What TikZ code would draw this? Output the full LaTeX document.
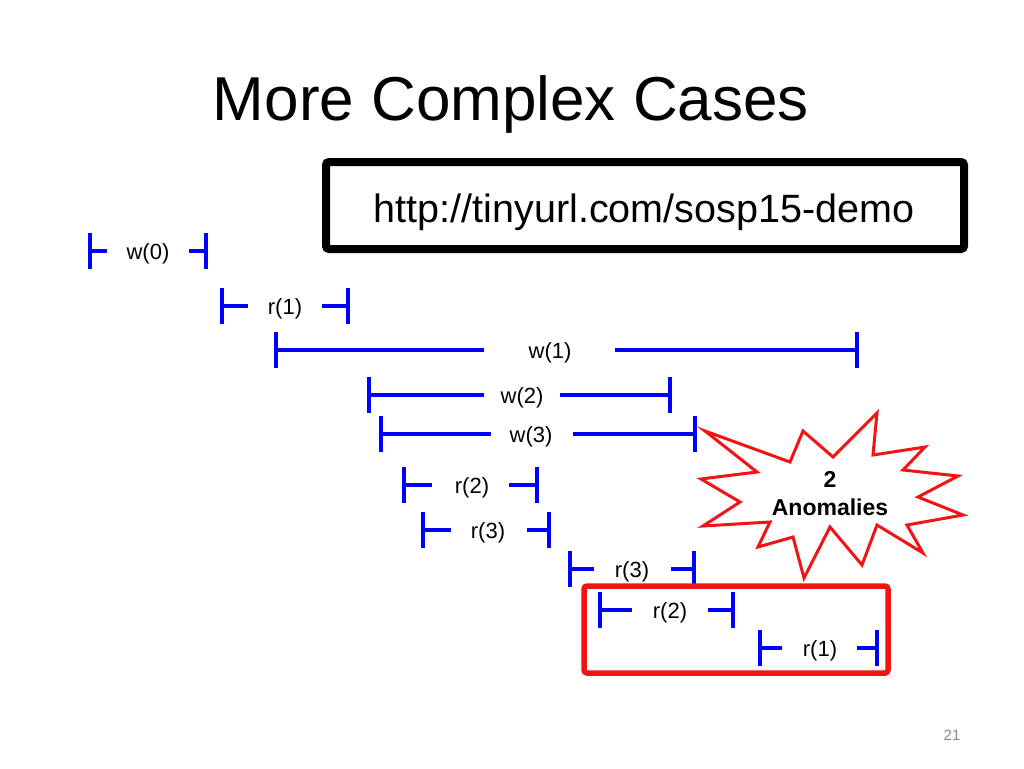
\documentclass[tikz,border=0pt]{standalone}
\usepackage{fontspec}
\setmainfont{Liberation Sans}
\tikzset{
  bar/.style={draw={rgb,255:red,0;green,0;blue,255}, line width=4pt},
  lbl/.style={inner sep=0pt, font=\fontsize{22}{26}\selectfont},
  redbox/.style={draw={rgb,255:red,240;green,20;blue,20}, line width=5.5pt, rounded corners=3pt},
  urlbox/.style={draw=black, line width=8pt, rounded corners=3pt},
  burst/.style={draw={rgb,255:red,240;green,20;blue,20}, line width=3pt, fill=white, line join=miter},
}
\newcommand\myivl[8]{%
  \coordinate (#1L) at (#3,#2);
  \coordinate (#1a) at (#4,#2);
  \node[lbl] (#1) at (#5,#2+3) {#6};
  \coordinate (#1b) at (#7,#2);
  \coordinate (#1R) at (#8,#2);
  \draw[bar] ([yshift=18pt]#1L) -- ([yshift=-18pt]#1L);
  \draw[bar] (#1L) -- (#1a);
  \draw[bar] (#1b) -- (#1R);
  \draw[bar] ([yshift=18pt]#1R) -- ([yshift=-18pt]#1R);
}
\begin{document}
\begin{tikzpicture}[x=1pt,y=-1pt]
\useasboundingbox (0,0) rectangle (1024,768);
% title
\node[font=\fontsize{62}{70}\selectfont, inner sep=0pt, anchor=base] (title) at (511,120) {More Complex Cases};
% url box
\draw[urlbox] (326,162) rectangle (964,249);
\node[font=\fontsize{39.5}{46}\selectfont, inner sep=0pt, anchor=base] (url) at (644,222) {http://tinyurl.com/sosp15-demo};
% intervals
\myivl{wz}{251}{90}{107}{148}{w(0)}{189}{206}
\myivl{ra}{306}{222}{248}{285}{r(1)}{322}{348}
\myivl{wa}{350}{276}{484}{550}{w(1)}{615}{857}
\myivl{wb}{395}{369}{484}{522}{w(2)}{560}{670}
\myivl{wc}{434}{381}{491}{531}{w(3)}{573}{695}
\myivl{rb}{485}{404}{432}{472}{r(2)}{509}{537}
\myivl{rc}{530}{423}{451}{488}{r(3)}{527}{549}
\myivl{rd}{569}{570}{594}{632}{r(3)}{671}{694}
\myivl{re}{610}{600}{632}{670}{r(2)}{708}{733}
\myivl{rf}{648}{760}{782}{820}{r(1)}{857}{877}
% red box
\draw[redbox] (584,586) rectangle (888,673);
% starburst
\draw[burst] (705,431) -- (790,462) -- (803,431) -- (833,457) -- (877,413) -- (873,455)
  -- (925,447) -- (903,470) -- (958,476) -- (918,497) -- (963,515) -- (907,525)
  -- (923,553) -- (877,525) -- (862,565) -- (830,527) -- (804,578) -- (793,537)
  -- (758,547) -- (770,522) -- (703,526) -- (740,502) -- (701,479) -- (757,472) -- cycle;
\node[font=\bfseries\fontsize{23}{27}\selectfont, inner sep=0pt, anchor=base] (two) at (830,487) {2};
\node[font=\bfseries\fontsize{23}{27}\selectfont, inner sep=0pt, anchor=base] (anom) at (830,515) {Anomalies};
% page number
\node[font=\fontsize{15}{18}\selectfont, text={rgb,255:red,140;green,140;blue,140}, inner sep=0pt, anchor=base] (page) at (952,740) {21};
\end{tikzpicture}
\end{document}
